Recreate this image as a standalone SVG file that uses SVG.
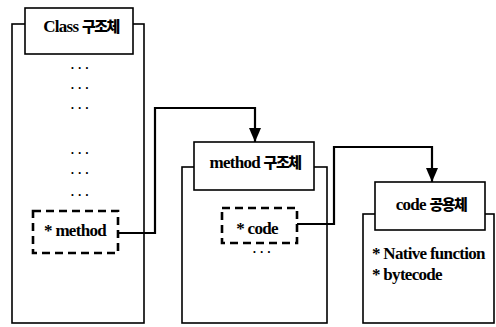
<svg xmlns="http://www.w3.org/2000/svg" width="496" height="327" viewBox="0 0 496 327">
<defs>
<style>
.box{fill:#fff;stroke:#000;stroke-width:1.6}
.dash{fill:none;stroke:#000;stroke-width:2.6;stroke-dasharray:8,5}
.conn{fill:none;stroke:#000;stroke-width:2.2}
.t{font-family:"Liberation Serif","Noto Sans CJK KR",serif;font-size:17px;font-weight:bold;fill:#000;letter-spacing:-0.7px}
.k{font-family:"Noto Sans CJK KR",sans-serif;font-size:15px;font-weight:900;letter-spacing:-1.5px}
.dots{font-family:"Liberation Sans",sans-serif;font-size:12px;font-weight:bold;fill:#000;text-anchor:middle}
</style>
<marker id="arr" viewBox="0 0 14 12" refX="14" refY="6" markerWidth="14" markerHeight="12" markerUnits="userSpaceOnUse" orient="auto">
<path d="M0,0 L14,6 L0,12 Z" fill="#000"/>
</marker>
</defs>
<g id="class">
<rect class="box" x="12" y="24" width="132" height="299"/>
<rect class="box" x="25" y="8" width="108" height="46"/>
<text class="t" x="81" y="32" text-anchor="middle">Class <tspan class="k">구조체</tspan></text>
<text class="dots" x="80" y="72">· · ·</text>
<text class="dots" x="80" y="92">· · ·</text>
<text class="dots" x="80" y="112">· · ·</text>
<text class="dots" x="80" y="157">· · ·</text>
<text class="dots" x="80" y="177">· · ·</text>
<text class="dots" x="80" y="199">· · ·</text>
<rect class="dash" x="33" y="211" width="85" height="42"/>
<text class="t" x="75" y="236" text-anchor="middle">* method</text>
</g>
<g id="method">
<rect class="box" x="182" y="167" width="145" height="156"/>
<rect class="box" x="194" y="142" width="120" height="48"/>
<text class="t" x="255" y="168" text-anchor="middle">method <tspan class="k">구조체</tspan></text>
<rect class="dash" x="222" y="208" width="75" height="35"/>
<text class="t" x="257" y="234" text-anchor="middle">* code</text>
<text class="dots" x="262" y="256">· · ·</text>
</g>
<g id="code">
<rect class="box" x="363" y="214" width="131" height="109"/>
<rect class="box" x="375" y="182" width="110" height="48"/>
<text class="t" x="431" y="210" text-anchor="middle">code <tspan class="k">공용체</tspan></text>
<text class="t" x="372" y="259">* Native function</text>
<text class="t" x="372" y="280">* bytecode</text>
</g>
<g id="connectors">
<path class="conn" d="M118,233 H155 V108 H255 V142" marker-end="url(#arr)"/>
<path class="conn" d="M297,224 H334 V147 H432 V182" marker-end="url(#arr)"/>
</g>
</svg>
